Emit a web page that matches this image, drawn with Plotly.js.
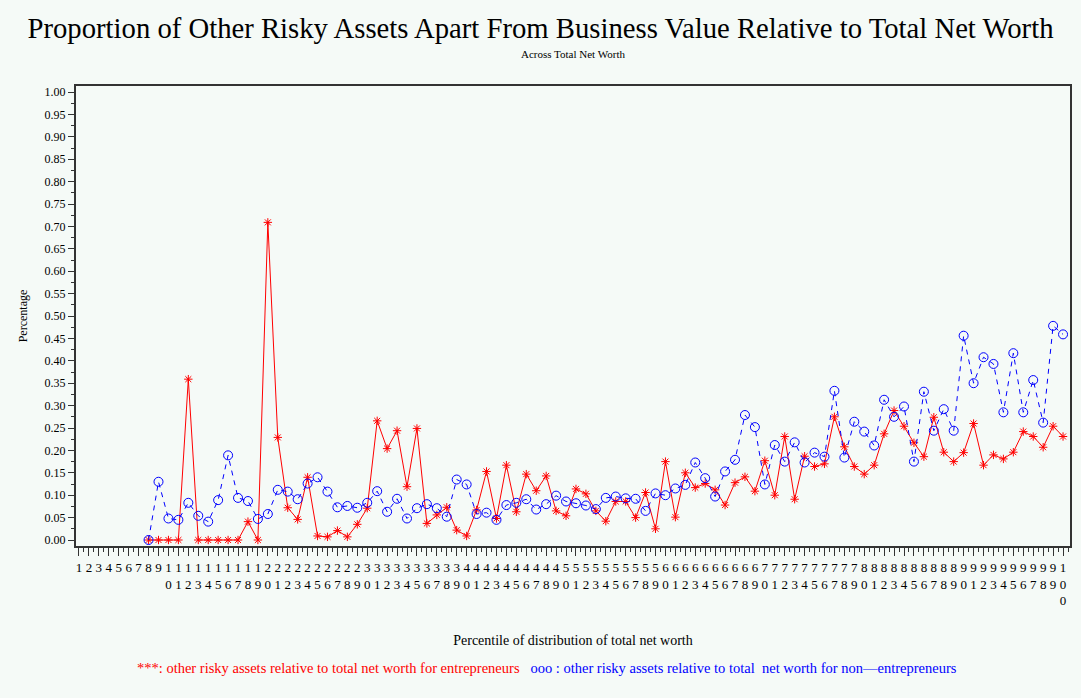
<!DOCTYPE html>
<html>
<head>
<meta charset="utf-8">
<script src="https://cdn.plot.ly/plotly-3.0.1.min.js"></script>
<style>
  html, body { margin: 0; padding: 0; background: #f5faf7; }
  #chart { width: 1081px; height: 698px; }
</style>
</head>
<body>
<div id="chart"></div>
<script>
// Percentiles of the distribution of total net worth (data begins at 8)
const percentiles = [8,9,10,11,12,13,14,15,16,17,18,19,20,21,22,23,24,25,26,27,28,29,30,
  31,32,33,34,35,36,37,38,39,40,41,42,43,44,45,46,47,48,49,50,51,52,53,54,55,56,57,58,59,60,
  61,62,63,64,65,66,67,68,69,70,71,72,73,74,75,76,77,78,79,80,81,82,83,84,85,86,87,88,89,90,
  91,92,93,94,95,96,97,98,99,100];

// Other risky assets relative to total net worth: entrepreneurs
const entrepreneurs = [0,0,0,0,0.359,0,0,0,0,0,0.041,0,0.709,0.229,0.072,0.046,0.140,0.009,0.007,0.021,0.007,0.035,0.071,
  0.266,0.204,0.244,0.119,0.249,0.037,0.056,0.073,0.022,0.009,0.067,0.153,0.048,0.167,0.063,0.147,0.110,0.143,0.065,0.054,
  0.114,0.103,0.065,0.042,0.086,0.086,0.050,0.106,0.025,0.175,0.051,0.150,0.117,0.126,0.112,0.078,0.128,0.141,0.109,0.177,
  0.100,0.231,0.091,0.187,0.164,0.170,0.275,0.208,0.164,0.147,0.167,0.237,0.289,0.254,0.217,0.186,0.274,0.196,0.175,0.195,
  0.260,0.167,0.190,0.181,0.196,0.242,0.231,0.207,0.254,0.231];

// Other risky assets relative to total net worth: non-entrepreneurs
const nonEntrepreneurs = [0,0.130,0.048,0.045,0.083,0.054,0.041,0.089,0.189,0.094,0.087,0.047,0.058,0.112,0.108,0.091,0.126,0.140,0.108,0.073,0.076,0.072,0.083,
  0.109,0.063,0.092,0.048,0.071,0.080,0.071,0.052,0.135,0.124,0.058,0.061,0.045,0.078,0.083,0.091,0.068,0.080,0.099,0.086,
  0.082,0.077,0.069,0.094,0.097,0.093,0.092,0.065,0.104,0.100,0.115,0.123,0.173,0.138,0.097,0.153,0.179,0.279,0.252,0.124,
  0.212,0.175,0.218,0.173,0.195,0.186,0.333,0.184,0.264,0.242,0.211,0.313,0.275,0.298,0.175,0.331,0.244,0.292,0.244,0.456,
  0.350,0.408,0.393,0.285,0.417,0.285,0.357,0.262,0.478,0.459];

// Tick positions 1..100, labels written with digits stacked vertically
const tickValues = Array.from({length: 100}, (_, i) => i + 1);
const tickLabels = tickValues.map(v => String(v).split('').join('<br>'));

const yTickValues = [0,0.05,0.10,0.15,0.20,0.25,0.30,0.35,0.40,0.45,0.50,0.55,0.60,0.65,0.70,0.75,0.80,0.85,0.90,0.95,1.00];

const serif = 'Liberation Serif, DejaVu Serif, serif';
const bg = '#f5faf7';

const traces = [
  {
    x: percentiles, y: entrepreneurs, type: 'scatter', mode: 'lines+markers',
    name: 'entrepreneurs',
    line: {color: '#ff0000', width: 1, dash: 'solid'},
    marker: {symbol: 'asterisk-open', size: 7, color: '#ff0000', line: {color: '#ff0000', width: 1}}
  },
  {
    x: percentiles, y: nonEntrepreneurs, type: 'scatter', mode: 'lines+markers',
    name: 'non-entrepreneurs',
    line: {color: '#0000ff', width: 1, dash: '5px,5px'},
    marker: {symbol: 'circle-open', size: 9, color: '#0000ff', line: {color: '#0000ff', width: 1}}
  }
];

const layout = {
  width: 1081, height: 698,
  paper_bgcolor: bg, plot_bgcolor: bg,
  margin: {l: 76, r: 11, t: 86, b: 152},
  showlegend: false,
  font: {family: serif, color: '#000', size: 12},
  title: {
    text: 'Proportion of Other Risky Assets Apart From Business Value Relative to Total Net Worth',
    font: {family: serif, size: 28.7, color: '#000'},
    x: 0.5, xanchor: 'center', y: 0.96, yanchor: 'middle'
  },
  xaxis: {
    range: [0.7, 100.7],
    tickmode: 'array', tickvals: tickValues, ticktext: tickLabels,
    ticks: 'outside', ticklen: 8, tickwidth: 1, tickcolor: '#333',
    tickfont: {family: serif, size: 13, color: '#000'},
    minor: {tickmode: 'linear', tick0: 0.5, dtick: 1, ticks: 'outside', ticklen: 4, tickcolor: '#333', showgrid: false},
    showline: true, linecolor: '#333', linewidth: 2, mirror: true,
    showgrid: false, zeroline: false,
    title: {text: 'Percentile of distribution of total net worth', font: {family: serif, size: 14, color: '#000'}, standoff: 28}
  },
  yaxis: {
    range: [-0.0134, 1.0134],
    tickmode: 'array', tickvals: yTickValues,
    tickformat: '.2f',
    ticks: 'outside', ticklen: 6, tickwidth: 1, tickcolor: '#333',
    tickfont: {family: serif, size: 12, color: '#000'},
    minor: {tickmode: 'linear', tick0: 0.025, dtick: 0.05, ticks: 'outside', ticklen: 3, tickcolor: '#333', showgrid: false},
    showline: true, linecolor: '#333', linewidth: 2, mirror: true,
    showgrid: false, zeroline: false,
    title: {text: 'Percentage', font: {family: serif, size: 12, color: '#000'}, standoff: 14}
  },
  annotations: [
    {
      text: 'Across Total Net Worth', xref: 'paper', yref: 'paper',
      x: 0.5, y: (546 - 54) / 460, xanchor: 'center', yanchor: 'middle', showarrow: false,
      font: {family: serif, size: 11, color: '#000'}
    },
    {
      text: '<span style="color:#ff0000">***: other risky assets relative to total net worth for entrepreneurs</span>   ' +
            '<span style="color:#0000ff">ooo : other risky assets relative to total  net worth for non\u2014entrepreneurs</span>',
      xref: 'paper', yref: 'paper',
      x: (547 - 76) / 994, y: (546 - 668) / 460, xanchor: 'center', yanchor: 'middle', showarrow: false,
      font: {family: serif, size: 14.5}
    }
  ]
};

Plotly.newPlot('chart', traces, layout, {displayModeBar: false, staticPlot: true});
</script>
</body>
</html>
